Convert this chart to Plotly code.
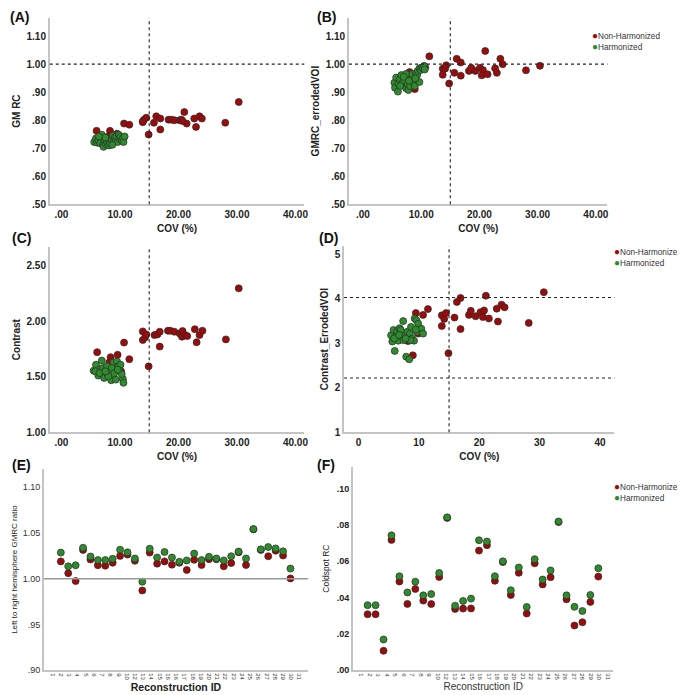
"""
Six-panel figure: COV vs recovery metrics (A-D) and per-reconstruction values (E-F),
Non-Harmonized vs Harmonized reconstructions.
"""

import numpy as np
import plotly.graph_objects as go
from plotly.subplots import make_subplots

# =============================================================================
# Data
# =============================================================================

# (A) GM RC vs COV
A_RED_COV = [6.0, 8.3, 8.0, 9.5, 10.7, 11.6, 13.9, 14.1, 14.5, 14.9, 15.8, 16.2, 16.9, 16.9,
             18.3, 18.8, 19.3, 20.2, 20.5, 21.0, 21.4, 22.7, 23.0, 23.6, 24.0, 28.0, 30.3,
             10.1, 9.0, 7.3, 13.9, 20.7]
A_RED_VAL = [0.762, 0.762, 0.742, 0.752, 0.788, 0.784, 0.796, 0.802, 0.809, 0.749, 0.791,
             0.814, 0.806, 0.767, 0.802, 0.802, 0.800, 0.800, 0.802, 0.829, 0.788, 0.806,
             0.776, 0.814, 0.806, 0.791, 0.865, 0.740, 0.745, 0.720, 0.793, 0.797]
A_GRN_COV = [5.6, 5.9, 6.1, 6.3, 6.6, 6.9, 7.1, 7.2, 7.4, 7.6, 7.8, 8.0, 8.1, 8.3, 8.5, 8.6,
             8.8, 8.9, 9.1, 9.3, 9.4, 9.6, 9.8, 9.9, 10.1, 10.3, 10.5, 10.6, 10.8, 7.5, 6.4, 8.7]
A_GRN_VAL = [0.722, 0.735, 0.720, 0.728, 0.718, 0.748, 0.712, 0.705, 0.728, 0.715, 0.722,
             0.732, 0.710, 0.718, 0.735, 0.728, 0.745, 0.722, 0.738, 0.730, 0.742, 0.722,
             0.748, 0.735, 0.740, 0.728, 0.735, 0.722, 0.742, 0.738, 0.742, 0.712]

# (B) GMRC_errodedVOI vs COV
B_RED_COV = [11.4, 10.5, 13.7, 13.7, 14.1, 14.3, 14.8, 15.7, 16.1, 16.8, 16.8, 18.2, 18.6,
             19.3, 20.1, 20.6, 20.4, 21.0, 21.4, 22.7, 23.0, 23.6, 24.0, 28.0, 30.4, 8.0,
             8.9, 10.0, 7.8, 10.7]
B_RED_VAL = [1.028, 0.993, 0.984, 0.962, 0.984, 0.996, 0.931, 0.969, 1.019, 1.006, 0.959,
             0.976, 0.987, 0.976, 0.987, 0.979, 0.960, 1.047, 0.964, 0.985, 0.969, 1.019,
             1.000, 0.978, 0.994, 0.972, 0.911, 0.985, 0.920, 0.988]
B_GRN_COV = [5.4, 5.5, 5.7, 6.0, 6.1, 6.3, 6.6, 6.8, 7.1, 7.4, 7.4, 7.7, 7.8, 8.1, 8.3, 8.5,
             8.7, 8.9, 9.1, 9.3, 9.4, 9.7, 9.7, 9.9, 10.1, 10.3, 10.5, 10.6, 6.4, 7.0, 7.9, 9.0]
B_GRN_VAL = [0.934, 0.916, 0.952, 0.902, 0.929, 0.946, 0.961, 0.934, 0.941, 0.965, 0.914,
             0.929, 0.908, 0.922, 0.946, 0.965, 0.938, 0.922, 0.967, 0.961, 0.976, 0.936,
             0.985, 0.979, 0.988, 0.985, 0.993, 0.981, 0.922, 0.955, 0.941, 0.949]

# (C) Contrast vs COV
C_RED_COV = [6.1, 8.4, 8.2, 9.6, 10.7, 11.6, 10.2, 13.9, 13.9, 14.3, 14.5, 14.9, 15.9, 16.4,
             16.8, 16.8, 18.2, 18.6, 19.3, 20.2, 20.6, 20.7, 21.1, 21.5, 22.8, 23.1, 23.6,
             24.1, 28.1, 30.3]
C_RED_VAL = [1.722, 1.677, 1.630, 1.698, 1.808, 1.659, 1.549, 1.909, 1.831, 1.855, 1.882,
             1.594, 1.876, 1.882, 1.906, 1.772, 1.915, 1.915, 1.906, 1.891, 1.861, 1.912,
             1.876, 1.867, 1.929, 1.811, 1.876, 1.915, 1.837, 2.297]
C_GRN_COV = [5.5, 5.9, 6.2, 6.3, 6.7, 6.9, 7.2, 7.3, 7.6, 7.9, 8.2, 8.5, 8.8, 8.9, 9.2, 9.3,
             9.5, 9.7, 9.9, 10.1, 10.5, 10.6, 5.8, 7.1, 7.8, 8.6, 6.5, 9.0, 10.3, 8.0, 9.6, 7.5]
C_GRN_VAL = [1.555, 1.609, 1.540, 1.511, 1.570, 1.646, 1.520, 1.490, 1.570, 1.520, 1.549,
             1.469, 1.594, 1.629, 1.570, 1.475, 1.638, 1.594, 1.558, 1.609, 1.481, 1.446,
             1.549, 1.579, 1.594, 1.579, 1.534, 1.531, 1.525, 1.505, 1.564, 1.549]

# (D) Contrast_ErrodedVOI vs COV
D_RED_COV = [9.5, 10.7, 11.5, 9.9, 8.2, 9.0, 13.8, 13.8, 14.2, 14.5, 14.9, 15.9, 16.3, 16.9,
             16.9, 18.3, 18.6, 19.4, 20.2, 20.8, 20.6, 21.1, 21.6, 22.9, 23.1, 23.7, 24.2,
             28.2, 30.7]
D_RED_VAL = [3.68, 3.64, 3.77, 3.22, 3.05, 2.73, 3.63, 3.39, 3.55, 3.68, 2.78, 3.58, 3.93,
             4.02, 3.32, 3.64, 3.73, 3.61, 3.70, 3.74, 3.59, 4.07, 3.56, 3.78, 3.49, 3.87,
             3.81, 3.46, 4.15]
D_GRN_COV = [5.4, 5.6, 5.8, 6.0, 6.3, 6.4, 6.6, 6.8, 7.1, 7.4, 7.4, 7.5, 7.7, 7.9, 8.1, 8.4,
             8.5, 8.7, 8.9, 9.2, 9.3, 9.6, 9.7, 9.9, 10.4, 10.7, 5.9, 7.0, 6.7, 8.6, 7.8, 9.5]
D_GRN_VAL = [3.18, 3.04, 3.30, 2.83, 3.16, 3.26, 3.06, 3.34, 3.15, 3.50, 3.19, 3.07, 3.22,
             2.70, 3.26, 2.64, 3.21, 3.37, 3.11, 3.06, 3.56, 3.52, 3.26, 3.44, 3.33, 3.22,
             3.11, 3.30, 3.19, 3.07, 3.11, 3.31]

# (E) Left to right hemisphere GMRC ratio per reconstruction
E_RED = [1.0190, 1.0061, 0.9975, 1.0315, 1.0211, 1.0147, 1.0143, 1.0175, 1.0250, 1.0264,
         1.0197, 0.9872, 1.0286, 1.0165, 1.0190, 1.0154, 1.0175, 1.0096, 1.0207, 1.0150,
         1.0214, 1.0214, 1.0136, 1.0171, 1.0289, 1.0150, 1.0540, 1.0315, 1.0246, 1.0307,
         1.0254, 1.0004]
E_GRN = [1.0286, 1.0136, 1.0147, 1.0339, 1.0243, 1.0204, 1.0204, 1.0218, 1.0318, 1.0289,
         1.0222, 0.9968, 1.0329, 1.0232, 1.0293, 1.0232, 1.0186, 1.0200, 1.0275, 1.0204,
         1.0240, 1.0222, 1.0200, 1.0246, 1.0297, 1.0222, 1.0543, 1.0322, 1.0347, 1.0332,
         1.0300, 1.0111]
E_TICK_LABELS = ["1", "2", "3", "4", "5", "6", "7", "8", "9", "10", "12", "13", "14", "15",
                 "16", "16", "17", "18", "19", "20", "21", "22", "23", "24", "25", "26", "27",
                 "28", "29", "30", "31"]

# (F) Coldspot RC per reconstruction
F_RED = [0.0308, 0.0308, 0.0107, 0.0717, 0.0488, 0.0365, 0.0447, 0.0383, 0.0364, 0.0513,
         0.0838, 0.0337, 0.0339, 0.0340, 0.0658, 0.0688, 0.0492, 0.0595, 0.0414, 0.0536,
         0.0312, 0.0588, 0.0472, 0.0512, 0.0815, 0.0390, 0.0246, 0.0264, 0.0376, 0.0515]
F_GRN = [0.0358, 0.0358, 0.0169, 0.0742, 0.0517, 0.0428, 0.0487, 0.0412, 0.0419, 0.0535,
         0.0841, 0.0355, 0.0381, 0.0394, 0.0715, 0.0708, 0.0517, 0.0599, 0.0440, 0.0565,
         0.0348, 0.0611, 0.0499, 0.0549, 0.0818, 0.0412, 0.0349, 0.0326, 0.0414, 0.0561]
F_TICK_LABELS = ["1", "2", "3", "4", "5", "6", "7", "8", "9", "10", "12", "13", "14", "15",
                 "16", "17", "18", "19", "20", "21", "22", "23", "24", "25", "26", "27", "28",
                 "29", "30", "31"]

COV_TICKS = [0, 10, 20, 30, 40]
COV_TICK_TEXT = [".00", "10.00", "20.00", "30.00", "40.00"]
GM_TICKS = [0.5, 0.6, 0.7, 0.8, 0.9, 1.0, 1.1]
GM_TICK_TEXT = [".50", ".60", ".70", ".80", ".90", "1.00", "1.10"]
CON_TICKS = [1.0, 1.5, 2.0, 2.5]
CON_TICK_TEXT = ["1.00", "1.50", "2.00", "2.50"]
E_TICKS = [0.90, 0.95, 1.00, 1.05, 1.10]
E_TICK_TEXT = [".90", ".95", "1.00", "1.05", "1.10"]
F_TICKS = [0.0, 0.02, 0.04, 0.06, 0.08, 0.10]
F_TICK_TEXT = [".00", ".02", ".04", ".06", ".08", ".10"]

COV_CUTOFF = 15
D_LINES = [4.03, 2.22]

# =============================================================================
# Style
# =============================================================================
W, H = 685, 695
RED = "#9c0b0b"
GREEN = "#2e8b2e"
EDGE = "#2a2a2a"
AXIS_GREY = "#c4c4c4"
FONT = "Arial, Liberation Sans, sans-serif"


def px_x(a, b):
    return [a / W, b / W]


def px_y(top, bottom):
    return [1 - bottom / H, 1 - top / H]


def marker(color):
    return dict(color=color, size=7, line=dict(color=EDGE, width=0.7))


fig = make_subplots(rows=3, cols=2)

scatter_sets = [
    (1, 1, A_RED_COV, A_RED_VAL, A_GRN_COV, A_GRN_VAL),
    (1, 2, B_RED_COV, B_RED_VAL, B_GRN_COV, B_GRN_VAL),
    (2, 1, C_RED_COV, C_RED_VAL, C_GRN_COV, C_GRN_VAL),
    (2, 2, D_RED_COV, D_RED_VAL, D_GRN_COV, D_GRN_VAL),
]
for r, c, rx, ry, gx, gy in scatter_sets:
    fig.add_trace(go.Scatter(x=rx, y=ry, mode="markers", marker=marker(RED),
                             name="Non-Harmonized", showlegend=False), row=r, col=c)
    fig.add_trace(go.Scatter(x=gx, y=gy, mode="markers", marker=marker(GREEN),
                             name="Harmonized", showlegend=False), row=r, col=c)

# E and F: one point per reconstruction, plotted by order
e_idx = list(range(1, len(E_RED) + 1))
f_idx = list(range(1, len(F_RED) + 1))
fig.add_trace(go.Scatter(x=e_idx, y=E_RED, mode="markers", marker=marker(RED),
                         showlegend=False), row=3, col=1)
fig.add_trace(go.Scatter(x=e_idx, y=E_GRN, mode="markers", marker=marker(GREEN),
                         showlegend=False), row=3, col=1)
fig.add_trace(go.Scatter(x=f_idx, y=F_RED, mode="markers", marker=marker(RED),
                         showlegend=False), row=3, col=2)
fig.add_trace(go.Scatter(x=f_idx, y=F_GRN, mode="markers", marker=marker(GREEN),
                         showlegend=False), row=3, col=2)

# --- reference lines ---
dot = dict(line_dash="dot", line_color="#222", line_width=1.1)
for r, c in [(1, 1), (1, 2), (2, 1), (2, 2)]:
    fig.add_vline(x=COV_CUTOFF, row=r, col=c, **dot)
fig.add_hline(y=1.0, row=1, col=1, **dot)
fig.add_hline(y=1.0, row=1, col=2, **dot)
for yv in D_LINES:
    fig.add_hline(y=yv, row=2, col=2, **dot)
fig.add_hline(y=1.0, row=3, col=1, line_color="#999", line_width=1.6)

# --- axes ---
bold10 = dict(family=FONT, size=10, color="#222", weight="bold")
axis_common = dict(showgrid=False, zeroline=False, showline=True, linecolor=AXIS_GREY,
                   linewidth=1.6, ticks="", mirror=False)
title_font = dict(family=FONT, size=10, color="#222", weight="bold")

cov_x = dict(axis_common, tickvals=COV_TICKS, ticktext=COV_TICK_TEXT, tickfont=bold10,
             title=dict(text="COV (%)", font=title_font, standoff=6))

id_tick_font = dict(family=FONT, size=6, color="#333")

fig.update_layout(
    xaxis=dict(cov_x, domain=px_x(42, 298), range=[-2.0, 41.5]),
    yaxis=dict(axis_common, domain=px_y(10, 198), range=[0.5, 1.165], tickvals=GM_TICKS,
               ticktext=GM_TICK_TEXT, tickfont=bold10,
               title=dict(text="GM RC", font=title_font, standoff=4)),
    xaxis2=dict(cov_x, domain=px_x(343, 603), range=[-2.4, 42.0]),
    yaxis2=dict(axis_common, domain=px_y(10, 198), range=[0.5, 1.165], tickvals=GM_TICKS,
                ticktext=GM_TICK_TEXT, tickfont=bold10,
                title=dict(text="GMRC_errodedVOI", font=title_font, standoff=4)),
    xaxis3=dict(cov_x, domain=px_x(42, 298), range=[-2.0, 41.5]),
    yaxis3=dict(axis_common, domain=px_y(241, 428), range=[1.0, 2.67], tickvals=CON_TICKS,
                ticktext=CON_TICK_TEXT, tickfont=bold10,
                title=dict(text="Contrast", font=title_font, standoff=4)),
    xaxis4=dict(axis_common, domain=px_x(338, 610), range=[-2.4, 42.4], tickvals=COV_TICKS,
                tickfont=bold10, title=dict(text="COV (%)", font=title_font, standoff=6)),
    yaxis4=dict(axis_common, domain=px_y(240, 428), range=[1.0, 5.19], tickvals=[1, 2, 3, 4, 5],
                tickfont=bold10,
                title=dict(text="Contrast_ErrodedVOI", font=title_font, standoff=4)),
    xaxis5=dict(axis_common, domain=px_x(36, 302), range=[-1.3, 34.4],
                tickvals=list(np.linspace(-0.1, 33.2, len(E_TICK_LABELS))),
                ticktext=E_TICK_LABELS, tickangle=90, tickfont=id_tick_font,
                title=dict(text="Reconstruction ID",
                           font=dict(family=FONT, size=10.5, color="#222", weight="bold"),
                           standoff=1)),
    yaxis5=dict(axis_common, domain=px_y(465, 668), range=[0.90, 1.12], tickvals=E_TICKS,
                ticktext=E_TICK_TEXT, tickfont=dict(family=FONT, size=9, color="#333"),
                title=dict(text="Left to right hemisphere GMRC ratio",
                           font=dict(family=FONT, size=8, color="#222"), standoff=4)),
    xaxis6=dict(axis_common, domain=px_x(347, 609), range=[-0.84, 31.9],
                tickvals=list(np.linspace(0.16, 31.2, len(F_TICK_LABELS))),
                ticktext=F_TICK_LABELS, tickangle=90, tickfont=id_tick_font,
                title=dict(text="Reconstruction ID",
                           font=dict(family=FONT, size=10, color="#333"), standoff=1)),
    yaxis6=dict(axis_common, domain=px_y(463, 668), range=[0.0, 0.1118], tickvals=F_TICKS,
                ticktext=F_TICK_TEXT,
                tickfont=dict(family=FONT, size=9, color="#222", weight="bold"),
                title=dict(text="Coldspot RC", font=dict(family=FONT, size=8.5, color="#222"),
                           standoff=6)),
)

# --- panel letters ---
annotations = []
for label, xp, yp in [("(A)", 0, 9), ("(B)", 309, 9), ("(C)", 2, 232),
                      ("(D)", 311, 232), ("(E)", 2, 461), ("(F)", 309, 461)]:
    annotations.append(dict(text=f"<b>{label}</b>", x=xp / W, y=1 - yp / H, xref="paper",
                            yref="paper", xanchor="left", yanchor="middle", showarrow=False,
                            font=dict(family=FONT, size=14, color="#111")))

# --- legends (B, D, F) ---
for lx, ly in [(585, 28), (608, 246), (608, 483)]:
    for i, (name, col) in enumerate([("Non-Harmonized", RED), ("Harmonized", GREEN)]):
        annotations.append(dict(
            text=f"<span style='color:{col};font-size:10px'>●</span>{name}",
            x=lx / W, y=1 - (ly + i * 11) / H, xref="paper", yref="paper",
            xanchor="left", yanchor="middle", showarrow=False,
            font=dict(family=FONT, size=8.2, color="#333")))

fig.update_layout(
    width=W, height=H,
    margin=dict(l=0, r=0, t=0, b=0),
    paper_bgcolor="white", plot_bgcolor="white",
    showlegend=False,
    annotations=annotations,
    font=dict(family=FONT),
)

fig.write_html("out.html")
